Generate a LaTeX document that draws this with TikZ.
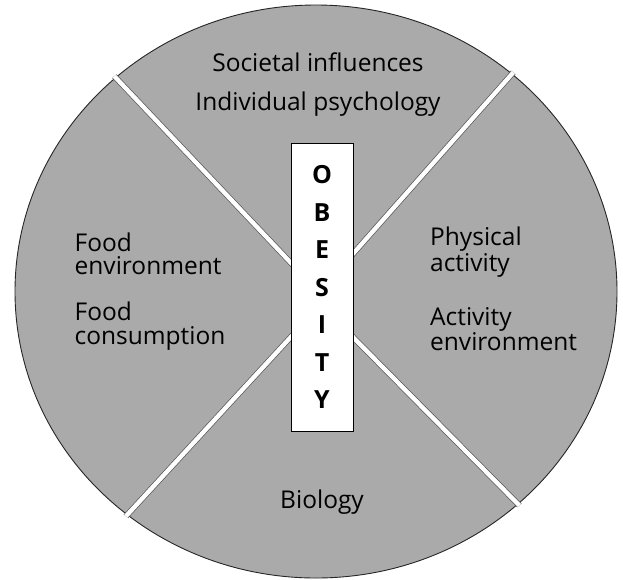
\documentclass[tikz,border=0pt]{standalone}
\usepackage{fontspec}
\setmainfont{Open Sans}
\usetikzlibrary{calc}
\definecolor{wedge}{RGB}{170,170,170}
\definecolor{seam}{RGB}{85,85,85}
\begin{document}
\begin{tikzpicture}[x=1pt,y=-1pt,
  factor/.style={inner sep=0pt, font=\fontsize{24.5}{29}\selectfont},
  gap/.style={draw=seam, line width=0.7pt, double=white, double distance=4.4pt},
  titlebox/.style={draw=black, line width=0.9pt, fill=white, inner sep=0pt,
    minimum width=62pt, minimum height=288pt, align=center,
    font=\bfseries\fontsize{25}{37.5}\selectfont}]
\useasboundingbox (0,0) rectangle (623,579);

% the disc
\coordinate (c) at (316,291.5);
\fill[wedge] (c) ellipse [x radius=301, y radius=286.5];
\draw[line width=0.9pt, black!85] (c) ellipse [x radius=301, y radius=286.5];

% white seams that split the disc into four sectors
\coordinate (ulin) at (300,272.5);  \coordinate (ulrim) at (117,79);
\coordinate (urin) at (344,264);    \coordinate (urrim) at (511,75);
\coordinate (llin) at (300,327);    \coordinate (llrim) at (128,514);
\coordinate (lrin) at (344,328);    \coordinate (lrrim) at (517,503);
\begin{scope}
  \clip (c) ellipse [x radius=303, y radius=288.5];
  \draw[gap] (ulin) -- ($(ulin)!1.1!(ulrim)$);
  \draw[gap] (urin) -- ($(urin)!1.1!(urrim)$);
  \draw[gap] (llin) -- ($(llin)!1.1!(llrim)$);
  \draw[gap] (lrin) -- ($(lrin)!1.1!(lrrim)$);
\end{scope}

% central title
\node[titlebox] (obesity) at (322,287) {O\\B\\E\\S\\I\\T\\Y};

% sector labels
\node[factor, anchor=base] (soc) at (318,71) {Societal influences};
\node[factor, anchor=base] (psy) at (318,110) {Individual psychology};

\node[factor, anchor=base west] (food1) at (74.5,251) {Food};
\node[factor, anchor=base west] (food2) at (74.5,274) {environment};
\node[factor, anchor=base west] (food3) at (74.5,320) {Food};
\node[factor, anchor=base west] (food4) at (74.5,344) {consumption};

\node[factor, anchor=base west] (act1) at (430,245) {Physical};
\node[factor, anchor=base west] (act2) at (430,271) {activity};
\node[factor, anchor=base west] (act3) at (430,325) {Activity};
\node[factor, anchor=base west] (act4) at (430,350.5) {environment};

\node[factor, anchor=base] (bio) at (322,508.5) {Biology};
\end{tikzpicture}
\end{document}
